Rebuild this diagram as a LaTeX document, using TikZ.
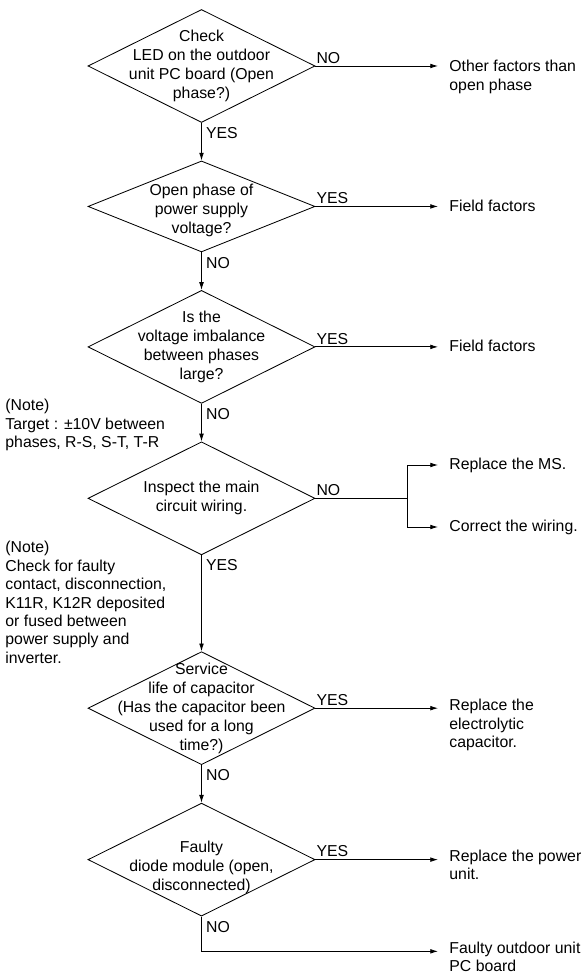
\documentclass[tikz,border=0pt]{standalone}
\usepackage{fontspec}
\setmainfont{Liberation Sans}
\usetikzlibrary{shapes.geometric,positioning,arrows.meta}

\begin{document}
\begin{tikzpicture}[node distance=0.94cm, line width=0.6pt,
    >={Latex[length=5.5pt,width=3.4pt]},
    font=\fontsize{11.25pt}{13.1pt}\selectfont,
    decision/.style={draw, diamond, minimum width=5.675cm, minimum height=2.825cm, inner sep=0pt},
    question/.style={align=center, inner sep=0pt, font=\fontsize{11.25pt}{13.6pt}\selectfont},
    result/.style={align=left, anchor=north west, inner xsep=0.275cm, inner ysep=0pt},
    note/.style={align=left, anchor=north west, inner sep=0pt},
    lblside/.style={anchor=south west, inner xsep=0.5pt, inner ysep=1.6pt},
    lbldown/.style={anchor=north west, inner sep=3pt}]
  \useasboundingbox (0,0) rectangle (14.6,-24.375);

  % decisions down the middle
  \node[decision] (led) at (5.0375,-1.65) {};
  \node[decision, minimum height=2.275cm, below=of led] (supply) {};
  \node[decision, below=of supply] (imbal) {};
  \node[decision, below=of imbal] (wiring) {};
  \node[decision, below=2.4cm of wiring] (cap) {};
  \node[decision, below=of cap] (diode) {};

  \node[question] (led-q) at (led) {Check\\LED on the outdoor\\unit PC board (Open\\phase?)};
  \node[question] (supply-q) at ([yshift=-0.1cm]supply) {Open phase of\\power supply\\voltage?};
  \node[question] (imbal-q) at (imbal) {Is the\\voltage imbalance\\between phases\\large?};
  \node[question] (wiring-q) at (wiring) {Inspect the main\\circuit wiring.};
  \node[question] (cap-q) at (cap) {Service\\life of capacitor\\(Has the capacitor been\\used for a long\\time?)};
  \node[question] (diode-q) at ([yshift=-0.2cm]diode) {Faulty\\diode module (open,\\disconnected)};

  % outcomes on the right
  \node[result] (other) at (10.95,-1.5) {Other factors than\\open phase};
  \node[result] (field1) at (10.95,-4.99) {Field factors};
  \node[result] (field2) at (10.95,-8.48) {Field factors};
  \node[result, anchor=west] (ms) at (10.95,-11.625) {Replace the MS.};
  \node[result, anchor=west] (corr) at (10.95,-13.175) {Correct the wiring.};
  \node[result] (elcap) at (10.95,-17.47) {Replace the\\electrolytic\\capacitor.};
  \node[result] (power) at (10.95,-21.235) {Replace the power\\unit.};
  \node[result] (pcb) at (10.95,-23.53) {Faulty outdoor unit\\PC board};

  % notes on the left
  \node[note] (note1) at (0.125,-9.975) {(Note)\\Target : ±10V between\\phases, R-S, S-T, T-R};
  \node[note] (note2) at (0.125,-13.525) {(Note)\\Check for faulty\\contact, disconnection,\\K11R, K12R deposited\\or fused between\\power supply and\\inverter.};

  % main line
  \draw[->] (led.south) node[lbldown] (led-yes) {YES} -- (supply.north);
  \draw[->] (supply.south) node[lbldown] (supply-no) {NO} -- (imbal.north);
  \draw[->] (imbal.south) node[lbldown] (imbal-no) {NO} -- (wiring.north);
  \draw[->] (wiring.south) node[lbldown] (wiring-yes) {YES} -- (cap.north);
  \draw[->] (cap.south) node[lbldown] (cap-no) {NO} -- (diode.north);
  \coordinate[below=0.87cm of diode.south] (bend);
  \draw[->] (diode.south) node[lbldown] (diode-no) {NO} -- (bend) -- (bend -| pcb.west);

  % branches
  \draw[->] (led.east) node[lblside] (led-no) {NO} -- (led.east -| other.west);
  \draw[->] (supply.east) node[lblside] (supply-yes) {YES} -- (supply.east -| field1.west);
  \draw[->] (imbal.east) node[lblside] (imbal-yes) {YES} -- (imbal.east -| field2.west);
  \coordinate[right=2.3cm of wiring.east] (split);
  \draw (wiring.east) node[lblside] (wiring-no) {NO} -- (split);
  \draw[->] (split) |- (ms);
  \draw[->] (split) |- (corr);
  \draw[->] (cap.east) node[lblside] (cap-yes) {YES} -- (cap.east -| elcap.west);
  \draw[->] (diode.east) node[lblside] (diode-yes) {YES} -- (diode.east -| power.west);
\end{tikzpicture}
\end{document}
